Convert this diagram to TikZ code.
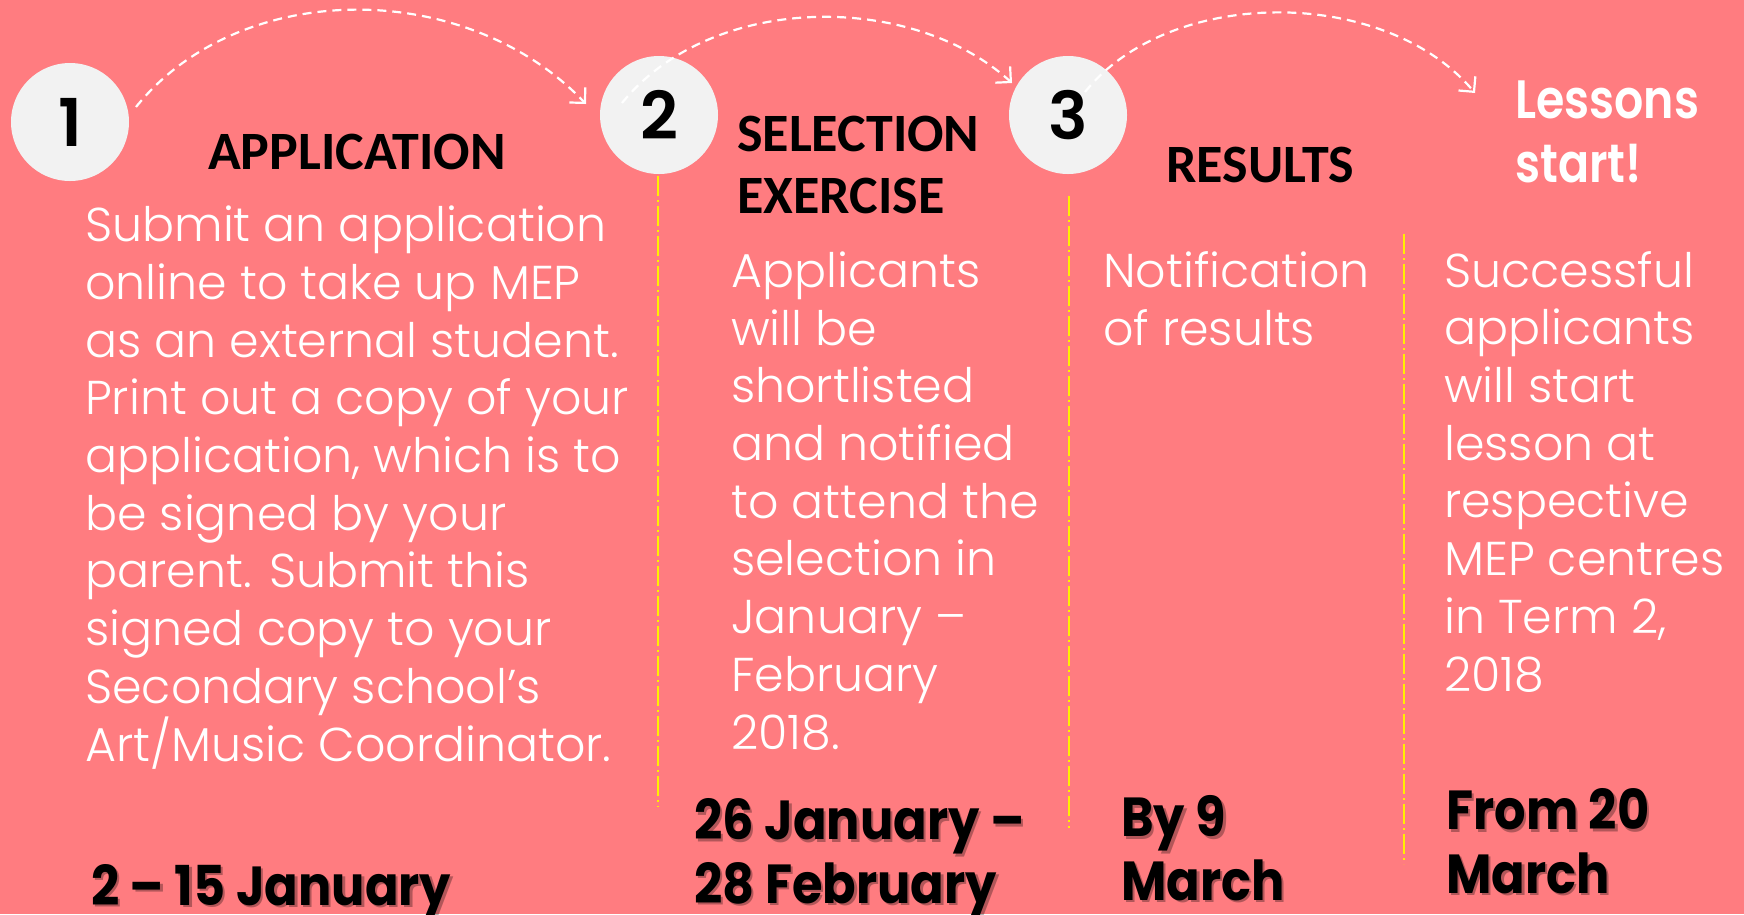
\documentclass[tikz,border=0pt]{standalone}
\usepackage{fontspec}
\setmainfont{Poppins}
\newfontfamily\bodyf{Poppins}[UprightFont=* Light]
\newfontfamily\headf{Carlito}[UprightFont=* Bold]
\newfontfamily\datef{Poppins}[UprightFont=* Bold, FakeStretch=0.9]
\newfontfamily\lessf{Poppins}[UprightFont=* SemiBold, FakeStretch=0.85]
\newfontfamily\numf{Poppins}[UprightFont=* SemiBold]
\usetikzlibrary{arrows.meta}
\definecolor{bgcoral}{HTML}{FF7C80}
\definecolor{circfill}{HTML}{F2F2F2}
\definecolor{guide}{HTML}{FFF000}
\tikzset{
  numcircle/.style={circle, fill=circfill, minimum size=118pt, inner sep=0pt,
    font=\numf\fontsize{66}{66}\selectfont, text=black},
  heading/.style={inner sep=0pt, anchor=base west, align=left, text=black,
    font=\headf\fontsize{54}{62}\selectfont},
  bodytext/.style={inner sep=0pt, anchor=base west, align=left, text=white,
    font=\bodyf\fontsize{47.5}{57.7}\selectfont},
  datetext/.style={inner sep=0pt, anchor=base west, align=left, text=black,
    font=\datef\fontsize{55}{63.5}\selectfont},
  dateshadow/.style={datetext, text=black, text opacity=0.3},
  lessontext/.style={inner sep=0pt, anchor=base west, align=left, text=white,
    font=\lessf\fontsize{54}{64}\selectfont},
  flowarrow/.style={white, line width=2.2pt, dash pattern=on 9pt off 6pt,
    -{Straight Barb[length=11pt,width=22pt]}},
  guideline/.style={guide, line width=1.6pt,
    dash pattern=on 20pt off 4pt on 2pt off 4pt}
}
\begin{document}
\begin{tikzpicture}[x=1pt,y=-1pt]
\useasboundingbox (0,0) rectangle (1744,914);
\fill[bgcoral] (0,0) rectangle (1744,914);

% guide lines
\coordinate (g1t) at (658,176); \coordinate (g1b) at (658,807);
\coordinate (g2t) at (1069,196); \coordinate (g2b) at (1069,828);
\coordinate (g3t) at (1404,234); \coordinate (g3b) at (1404,864);
\draw[guideline] (g1t) -- (g1b);
\draw[guideline] (g2t) -- (g2b);
\draw[guideline] (g3t) -- (g3b);

% circles
\node[numcircle] (c1) at (70,122) {1};
\node[numcircle] (c2) at (659,115) {2};
\node[numcircle] (c3) at (1068,115) {3};

% arrows
\coordinate (a1s) at (136,107); \coordinate (a1e) at (586,104);
\coordinate (a2s) at (622,103); \coordinate (a2e) at (1012,83);
\coordinate (a3s) at (1085,92); \coordinate (a3e) at (1475,93);
\draw[flowarrow] (a1s) .. controls (240,-22) and (466,-22) .. (a1e);
\draw[flowarrow] (a2s) .. controls (712,-8) and (912,-8) .. (a2e);
\draw[flowarrow] (a3s) .. controls (1170,-14) and (1385,-14) .. (a3e);

% headings (anchor = baseline of last line)
\node[heading] (h1) at (208,169) {APPLICATION};
\node[heading] (h2) at (737,213) {SELECTION\\EXERCISE};
\node[heading] (h3) at (1166,182) {RESULTS};
\node[lessontext] (h4) at (1515,182) {Lessons\\start!};

% body text (anchor = baseline of last line)
\node[bodytext] (p1) at (85,761) {Submit an application\\online to take up MEP\\as an external student.\\Print out a copy of your\\application, which is to\\be signed by your\\parent. Submit this\\signed copy to your\\Secondary school’s\\Art/Music Coordinator.};
\node[bodytext] (p2) at (731,749) {Applicants\\will be\\shortlisted\\and notified\\to attend the\\selection in\\January –\\February\\2018.};
\node[bodytext] (p3) at (1103,345) {Notification\\of results};
\node[bodytext] (p4) at (1444,691) {Successful\\applicants\\will start\\lesson at\\respective\\MEP centres\\in Term 2,\\2018};

% dates (with shadow)
\node[dateshadow] (d1s) at (93.5,907.5) {2 – 15 January};
\node[datetext] (d1) at (91,905) {2 – 15 January};
\node[dateshadow] (d2s) at (696.5,905.5) {26 January –\\28 February};
\node[datetext] (d2) at (694,903) {26 January –\\28 February};
\node[dateshadow] (d3s) at (1123.5,902.5) {By 9\\March};
\node[datetext] (d3) at (1121,900) {By 9\\March};
\node[dateshadow] (d4s) at (1448.5,895.5) {From 20\\March};
\node[datetext] (d4) at (1446,893) {From 20\\March};
\end{tikzpicture}
\end{document}
